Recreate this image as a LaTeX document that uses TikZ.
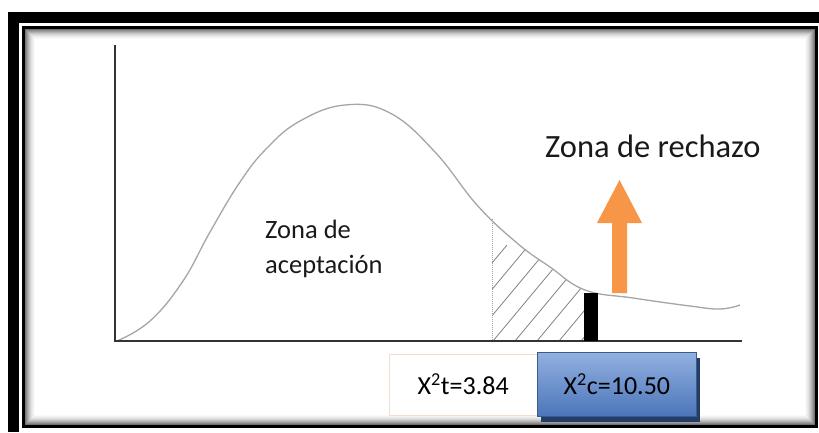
\documentclass[tikz,border=0pt]{standalone}
\usepackage{fontspec}
\setmainfont{Carlito}
\usetikzlibrary{positioning,shadows}

\definecolor{naranja}{RGB}{247,150,70}
\definecolor{azulclaro}{RGB}{146,176,224}
\definecolor{azul}{RGB}{76,118,186}
\definecolor{azulborde}{RGB}{56,93,138}
\definecolor{azulsombra}{RGB}{36,60,104}
\definecolor{grisdens}{RGB}{165,165,165}
\definecolor{bordepiel}{RGB}{250,218,200}

% curva de densidad chi cuadrado
\newcommand{\curvachi}{plot[smooth,tension=0.7] coordinates {
	(117,341) (150,321) (183,281) (210,232) (240,182) (267,148) (300,121)
	(345,105) (390,113) (435,152) (477,205) (517,243) (550,267) (585,290)
	(633,298) (690,306) (720,309) (740,305)}}

\tikzset{
	eje/.style={draw=black!80, line width=2pt},
	curva/.style={draw=grisdens, line width=1.3pt},
	rayado/.style={draw=black!50, line width=0.8pt},
	etiqueta/.style={inner sep=0pt, text=black!90},
	valorbox/.style={draw=bordepiel, fill=white, inner sep=0pt,
		minimum width=148pt, minimum height=61pt,
		font=\fontsize{26}{30}\selectfont},
	calcbox/.style={draw=azulborde, line width=0.8pt, top color=azulclaro,
		bottom color=azul, inner sep=0pt, minimum width=159pt,
		minimum height=64pt, font=\fontsize{26}{30}\selectfont,
		general shadow={fill=azulsombra, shadow xshift=4pt, shadow yshift=-6pt}},
}

\begin{document}
\begin{tikzpicture}[x=1pt,y=-1pt]
		\useasboundingbox (0,0) rectangle (819,432);
		% marco
		\fill (8,12) rectangle (819,23);
		\fill (8,12) rectangle (19,432);
		\foreach \i/\g in {0/55,1/46,2/38,3/30,4/23,5/17,6/12,7/8,8/5,9/2}
			\draw[black!\g, line width=1pt] (25.5+\i,29.5+\i) rectangle (814.5-\i,424.5-\i);
		\draw[line width=3pt] (23.5,27.5) rectangle (816.5,426.5);

		% zona rayada
		\begin{scope}
			\clip (492,0) rectangle (586,341);
			\clip \curvachi -- (740,341) -- (117,341) -- cycle;
			\foreach \x in {405,427,...,581}
				\draw[rayado] (\x,341) -- ++(80,-96);
		\end{scope}
		\draw[densely dotted, grisdens, line width=1pt] (492,219) -- (492,341);

		\draw[curva] \curvachi;
		\draw[eje] (115,45) -- (115,341) -- (742,341);

		% valor critico y flecha
		\fill (584,293) rectangle (598,341);
		\fill[naranja] (612,293) -- (612,223) -- (597,223) -- (619.5,180)
			-- (642,223) -- (627,223) -- (627,293) -- cycle;

		\node[etiqueta, anchor=base west, font=\fontsize{32.5}{38}\selectfont]
			(rechazo) at (545,157) {Zona de rechazo};
		\node[etiqueta, align=left, anchor=north west, font=\fontsize{26.5}{35}\selectfont]
			(aceptacion) at (265,220) {Zona de\\aceptación};

		\node[valorbox, anchor=west] (tabla) at (389,384.5) {X\textsuperscript{2}t=3.84};
		\node[calcbox, anchor=west] (calculado) at (537,384) {X\textsuperscript{2}c=10.50};
\end{tikzpicture}
\end{document}
